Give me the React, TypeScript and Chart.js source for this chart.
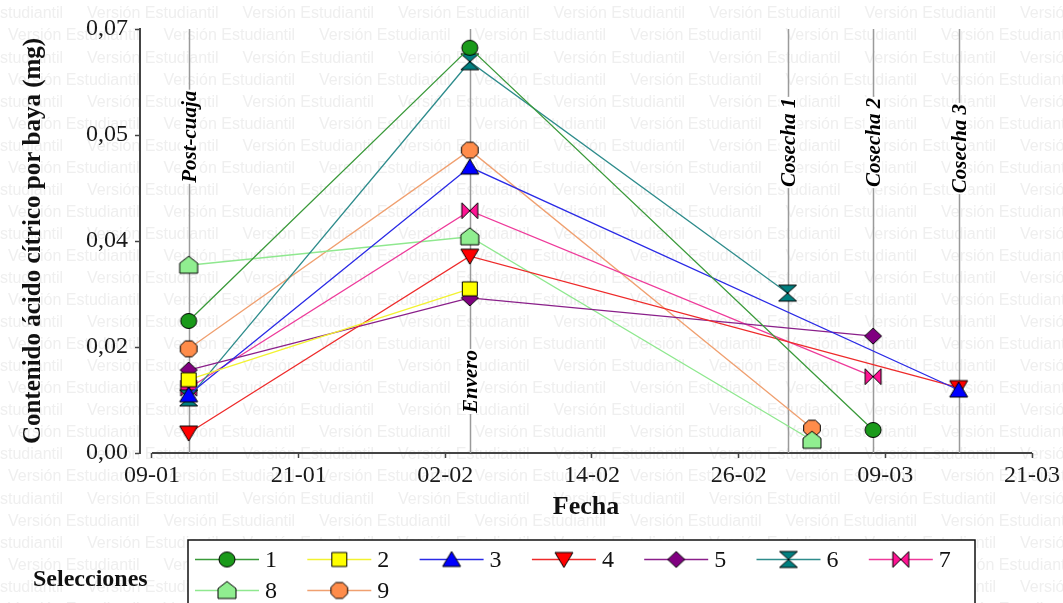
import React, { useEffect, useRef } from 'react';
import { Chart, registerables } from 'chart.js';

Chart.register(...registerables);

const W = 1063;
const H = 603;
const SERIF = "'Liberation Serif', 'Times New Roman', serif";

// ---- axis ticks (days of a leap year) ----
const xTickDays = [9, 21, 33, 45, 57, 69, 81];
const xTickLabels = ['09-01', '21-01', '02-02', '14-02', '26-02', '09-03', '21-03'];
const yTickValues = [0, 0.0175, 0.035, 0.0525, 0.07];
const yTickLabels = ['0,00', '0,02', '0,04', '0,05', '0,07'];

// ---- phenological events ----
const eventNames = ['Post-cuaja', 'Envero', 'Cosecha 1', 'Cosecha 2', 'Cosecha 3'];
const eventDays = [12, 35, 61, 68, 75];

// ---- series (day of year, mg citric acid per berry) ----
const selectionNames = ['1', '2', '3', '4', '5', '6', '7', '8', '9'];
const sel1Days = [12, 35, 68];
const sel1Values = [0.0218, 0.0669, 0.0038];
const sel2Days = [12, 35];
const sel2Values = [0.0121, 0.0271];
const sel3Days = [12, 35, 75];
const sel3Values = [0.0096, 0.0472, 0.0104];
const sel4Days = [12, 35, 75];
const sel4Values = [0.0033, 0.0325, 0.0108];
const sel5Days = [12, 35, 68];
const sel5Values = [0.0137, 0.0256, 0.0193];
const sel6Days = [12, 35, 61];
const sel6Values = [0.0091, 0.0646, 0.0264];
const sel7Days = [12, 35, 68];
const sel7Values = [0.0107, 0.04, 0.0126];
const sel8Days = [12, 35, 63];
const sel8Values = [0.031, 0.0357, 0.0021];
const sel9Days = [12, 35, 63];
const sel9Values = [0.0172, 0.05, 0.0041];

const seriesDays = [sel1Days, sel2Days, sel3Days, sel4Days, sel5Days, sel6Days, sel7Days, sel8Days, sel9Days];
const seriesValues = [sel1Values, sel2Values, sel3Values, sel4Values, sel5Values, sel6Values, sel7Values, sel8Values, sel9Values];

// ---- styles ----
const lineColors = ['#3a9a3a', '#f2f230', '#2a2ae6', '#ee2a2a', '#8a1f8a', '#2e8c8c', '#ee3a9a', '#8fe88f', '#f0a070'];
const fillColors = ['#1a9a1a', '#ffff00', '#0000ff', '#ff0000', '#800080', '#008080', '#ff1493', '#90ee90', '#ff8c4a'];
const markerShapes = ['circle', 'square', 'triUp', 'triDown', 'diamond', 'hourglass', 'bowtie', 'house', 'octagon'];

function makeMarker(shape: string, fill: string): HTMLCanvasElement {
  const s = 24;
  const c = document.createElement('canvas');
  c.width = s;
  c.height = s;
  const g = c.getContext('2d')!;
  g.translate(s / 2, s / 2);
  g.beginPath();
  switch (shape) {
    case 'circle':
      g.ellipse(0, 0, 8, 7.5, 0, 0, Math.PI * 2);
      break;
    case 'square':
      g.rect(-7.5, -7, 15, 14);
      break;
    case 'triUp':
      g.moveTo(0, -8); g.lineTo(9, 7); g.lineTo(-9, 7); g.closePath();
      break;
    case 'triDown':
      g.moveTo(0, 8); g.lineTo(9, -7); g.lineTo(-9, -7); g.closePath();
      break;
    case 'diamond':
      g.moveTo(0, -8); g.lineTo(8.5, 0); g.lineTo(0, 8); g.lineTo(-8.5, 0); g.closePath();
      break;
    case 'hourglass':
      g.moveTo(-9, -8); g.lineTo(9, -8); g.lineTo(-9, 8); g.lineTo(9, 8); g.closePath();
      break;
    case 'bowtie':
      g.moveTo(-8, -8); g.lineTo(-8, 8); g.lineTo(8, -8); g.lineTo(8, 8); g.closePath();
      break;
    case 'house':
      g.moveTo(0, -9); g.lineTo(9, -2); g.lineTo(9, 8); g.lineTo(-9, 8); g.lineTo(-9, -2); g.closePath();
      break;
    case 'octagon':
      for (let k = 0; k < 8; k++) {
        const a = Math.PI / 8 + (k * Math.PI) / 4;
        const px = Math.cos(a) * 9;
        const py = Math.sin(a) * 8.6;
        if (k === 0) g.moveTo(px, py); else g.lineTo(px, py);
      }
      g.closePath();
      break;
  }
  g.fillStyle = fill;
  g.fill();
  g.lineWidth = 1;
  g.strokeStyle = '#000';
  g.stroke();
  return c;
}

export default function App() {
  const ref = useRef<HTMLCanvasElement | null>(null);

  useEffect(() => {
    document.body.style.margin = '0';
    const canvas = ref.current!;
    const markers = markerShapes.map((s, i) => makeMarker(s, fillColors[i]));

    const watermarkPlugin = {
      id: 'watermark',
      beforeDraw(chart: any) {
        const ctx = chart.ctx as CanvasRenderingContext2D;
        ctx.save();
        ctx.fillStyle = '#fff';
        ctx.fillRect(0, 0, chart.width, chart.height);
        ctx.font = "16px 'Liberation Sans', Arial, sans-serif";
        ctx.fillStyle = '#efefef';
        ctx.textBaseline = 'middle';
        ctx.textAlign = 'left';
        for (let r = 0; r < 28; r++) {
          const y = 14 + r * 22.05;
          const start = (r % 2 === 0 ? 87 : 8) - 155.5;
          for (let x = start; x < chart.width; x += 155.5) {
            ctx.fillText('Versión Estudiantil', x, y);
          }
        }
        ctx.restore();
      },
    };

    const eventsPlugin = {
      id: 'events',
      beforeDatasetsDraw(chart: any) {
        const ctx = chart.ctx as CanvasRenderingContext2D;
        const xs = chart.scales.x;
        const ys = chart.scales.y;
        const area = chart.chartArea;
        const labelEnds = [0.0446, 0.0066, 0.0439, 0.0439, 0.0429];
        ctx.save();
        // x axis line
        ctx.strokeStyle = '#444';
        ctx.lineWidth = 2;
        ctx.beginPath();
        ctx.moveTo(xs.getPixelForValue(xTickDays[0]), area.bottom);
        ctx.lineTo(xs.getPixelForValue(xTickDays[xTickDays.length - 1]), area.bottom);
        ctx.stroke();
        eventDays.forEach((d, i) => {
          const x = Math.round(xs.getPixelForValue(d)) + 0.5;
          ctx.strokeStyle = '#9a9a9a';
          ctx.lineWidth = 1.5;
          ctx.beginPath();
          ctx.moveTo(x, area.top);
          ctx.lineTo(x, area.bottom);
          ctx.stroke();
          const yb = ys.getPixelForValue(labelEnds[i]);
          ctx.save();
          ctx.translate(x, yb);
          ctx.rotate(-Math.PI / 2);
          ctx.font = `italic bold 21px ${SERIF}`;
          const w = ctx.measureText(eventNames[i]).width;
          ctx.fillStyle = '#fff';
          ctx.fillRect(-1, -9, w + 2, 18);
          ctx.fillStyle = '#000';
          ctx.textAlign = 'left';
          ctx.textBaseline = 'middle';
          ctx.fillText(eventNames[i], 0, 1);
          ctx.restore();
        });
        ctx.restore();
      },
    };

    const legendPlugin = {
      id: 'customLegend',
      afterDraw(chart: any) {
        const ctx = chart.ctx as CanvasRenderingContext2D;
        ctx.save();
        ctx.fillStyle = '#fff';
        ctx.fillRect(188, 540, 787, 70);
        ctx.strokeStyle = '#111';
        ctx.lineWidth = 1.5;
        ctx.strokeRect(188, 540, 787, 70);
        ctx.font = `bold 24px ${SERIF}`;
        ctx.fillStyle = '#111';
        ctx.textBaseline = 'middle';
        ctx.textAlign = 'left';
        ctx.fillText('Selecciones', 33, 580);
        ctx.font = `24px ${SERIF}`;
        selectionNames.forEach((name, i) => {
          const col = i % 7;
          const row = Math.floor(i / 7);
          const x0 = 195 + col * 112.3;
          const y = row === 0 ? 559.5 : 590.5;
          ctx.strokeStyle = lineColors[i];
          ctx.lineWidth = 1.3;
          ctx.beginPath();
          ctx.moveTo(x0, y);
          ctx.lineTo(x0 + 64, y);
          ctx.stroke();
          const m = markers[i];
          ctx.drawImage(m, x0 + 32 - m.width / 2, y - m.height / 2);
          ctx.fillStyle = '#111';
          ctx.fillText(name, x0 + 70, y + 1);
        });
        ctx.restore();
      },
    };

    const datasets = seriesDays.map((days, i) => ({
      label: selectionNames[i],
      data: days.map((d, k) => ({ x: d, y: seriesValues[i][k] })),
      borderColor: lineColors[i],
      backgroundColor: fillColors[i],
      borderWidth: 1.3,
      pointStyle: markers[i],
      pointRadius: 8,
      tension: 0,
      clip: false as any,
    }));

    const chart = new Chart(canvas, {
      type: 'line',
      data: { datasets },
      options: {
        animation: false,
        responsive: false,
        devicePixelRatio: 1,
        layout: { padding: { top: 29, right: 30, bottom: 80, left: 0 } },
        plugins: { legend: { display: false }, tooltip: { enabled: false } },
        scales: {
          x: {
            type: 'linear',
            min: 8.02,
            max: 81,
            afterBuildTicks: (s: any) => {
              s.ticks = xTickDays.map((v) => ({ value: v }));
            },
            afterFit: (s: any) => {
              s.height = 70;
            },
            ticks: {
              autoSkip: false,
              maxRotation: 0,
              padding: 3,
              color: '#1a1a1a',
              font: { family: SERIF, size: 24 },
              callback: (_v: any, i: number) => xTickLabels[i],
            },
            grid: { drawOnChartArea: false, drawTicks: true, tickLength: 5, tickColor: '#444', tickWidth: 1.5 },
            border: { display: false },
            title: {
              display: true,
              text: 'Fecha',
              color: '#111',
              font: { family: SERIF, size: 26, weight: 'bold' },
              padding: { top: 0, bottom: 0 },
            },
          },
          y: {
            type: 'linear',
            min: 0,
            max: 0.07,
            afterBuildTicks: (s: any) => {
              s.ticks = yTickValues.map((v) => ({ value: v }));
            },
            afterFit: (s: any) => {
              s.width = 140;
            },
            ticks: {
              autoSkip: false,
              padding: 7,
              color: '#1a1a1a',
              font: { family: SERIF, size: 24 },
              callback: (_v: any, i: number) => yTickLabels[i],
            },
            grid: { drawOnChartArea: false, drawTicks: true, tickLength: 5, tickColor: '#444', tickWidth: 1.5 },
            border: { display: true, color: '#444', width: 2 },
            title: {
              display: true,
              text: 'Contenido ácido cítrico por baya (mg)',
              color: '#111',
              font: { family: SERIF, size: 25, weight: 'bold' },
              padding: { top: 19, bottom: 0 },
            },
          },
        },
      },
      plugins: [watermarkPlugin, eventsPlugin, legendPlugin],
    } as any);

    return () => chart.destroy();
  }, []);

  return (
    <div style={{ width: W, height: H, position: 'relative' }}>
      <canvas ref={ref} width={W} height={H} style={{ display: 'block', width: W, height: H }} />
    </div>
  );
}
